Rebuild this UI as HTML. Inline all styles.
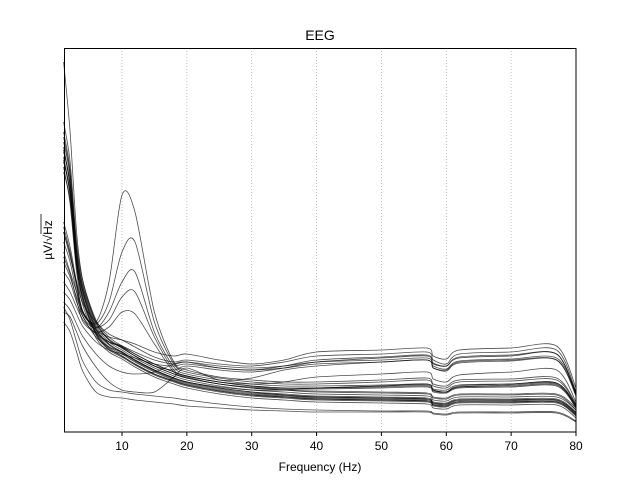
<!DOCTYPE html>
<html><head><meta charset="utf-8"><style>
body{margin:0;background:#fff;width:640px;height:480px;overflow:hidden}
text{font-family:"Liberation Sans","DejaVu Sans",sans-serif}
</style></head><body>
<svg id="chart" width="640" height="480" xmlns="http://www.w3.org/2000/svg">
<rect width="640" height="480" fill="#fff"/>
<g id="grid"></g>
<g id="lines"></g>
<rect x="64.5" y="48.5" width="511.5" height="383.5" fill="none" stroke="#000" stroke-width="1"/>
<g id="ticks"></g>
<text x="320" y="40" font-size="14" text-anchor="middle">EEG</text>
<text x="320" y="471" font-size="12" text-anchor="middle">Frequency (Hz)</text>
<g transform="translate(52,240) rotate(-90)"><text x="0" y="0" font-size="12" text-anchor="middle">µV/√Hz</text><line x1="6" x2="26" y1="-11" y2="-11" stroke="#000" stroke-width="0.8"/></g>
</svg>
<script>
const freqs=[1,2,3,4,6,8,10,12,15,18,20,25,30,35,40,50,57,58,60,62,70,77,80];
const xTicks=[10,20,30,40,50,60,70,80];
const ch01=[270,240,170,135,100,85,78,70,60,52,48,42,38,36,34,33,32,28,27,31,31,31,18];
const ch02=[280,250,175,140,104,88,80,72,62,54,50,44,40,38,36,35,34,30,29,33,33,33,20];
const ch03=[260,232,165,130,97,82,75,67,57,50,46,40,36,34,32,31,30,26,25,29,29,29,16];
const ch04=[290,255,180,142,106,90,82,74,64,56,52,46,42,40,38,37,36,32,31,35,35,35,22];
const ch05=[275,238,168,133,99,84,76,68,58,51,47,41,37,35,33,32,31,27,26,30,30,30,17];
const ch06=[300,262,185,146,110,93,85,76,66,58,54,48,44,42,41,40,39,35,34,38,38,38,24];
const ch07=[265,228,160,126,94,80,73,65,55,48,44,38,34,32,30,29,28,24,23,27,27,27,14];
const ch08=[285,245,172,138,102,87,79,71,61,53,49,43,39,37,35,34,33,29,28,32,32,32,19];
const ch09=[160,150,130,115,95,85,80,72,62,54,50,45,42,42,44,46,47,42,40,45,47,48,25];
const ch10=[180,160,140,120,100,90,85,78,68,60,56,50,48,50,55,58,60,53,50,57,60,62,30];
const ch11=[200,175,150,128,110,98,92,85,75,70,72,68,66,70,76,78,80,72,68,78,80,82,40];
const ch12=[150,140,125,112,98,90,86,80,72,68,70,64,62,66,72,75,77,69,66,75,77,78,38];
const ch13=[170,155,135,118,102,95,92,88,80,76,78,72,68,72,80,82,84,76,73,82,84,86,44];
const ch14=[140,132,118,105,90,82,78,74,68,66,68,64,62,64,68,70,72,64,62,70,72,72,36];
const ch15=[120,115,100,85,65,50,42,40,40,55,64,52,54,62,66,70,72,64,61,69,71,72,38];
const ch16=[130,122,108,95,78,66,60,58,60,68,70,66,64,66,70,72,74,66,63,71,73,74,40];
const ch17=[110,100,80,60,40,35,34,32,30,28,26,24,22,21,20,20,20,18,17,19,19,19,10];
const ch18=[125,112,90,70,50,42,40,38,36,34,32,28,25,23,22,21,21,19,18,20,20,20,11];
const ch19=[210,185,150,120,110,150,237,220,120,70,62,55,52,50,50,52,54,48,46,52,53,54,28];
const ch20=[200,178,145,118,108,130,180,190,110,68,60,54,50,48,48,50,52,46,44,50,51,52,27];
const ch21=[190,170,140,115,104,120,150,160,100,65,58,52,48,46,46,47,48,43,42,47,48,49,26];
const ch22=[205,180,148,120,105,112,135,140,95,62,56,50,46,44,44,45,46,41,40,45,46,47,25];
const ch23=[175,158,132,110,100,105,120,118,88,60,55,48,45,43,43,44,45,40,39,44,45,46,24];
const ch24=[310,270,190,150,112,95,86,78,68,60,56,50,46,44,44,46,48,42,40,46,48,49,26];
const ch25=[295,258,182,144,108,92,84,76,66,62,66,62,60,64,70,74,76,68,66,74,76,78,36];
const ch26=[370,300,200,150,110,92,84,76,66,58,54,48,44,42,40,39,38,34,33,37,37,37,22];
const ch27=[282,246,174,139,103,88,80,72,62,54,50,44,40,37,35,34,33,29,28,32,32,32,19];
const ch28=[272,236,166,132,98,83,76,68,58,51,47,41,37,35,33,32,31,27,26,30,30,30,17];
const channels=[ch01,ch02,ch03,ch04,ch05,ch06,ch07,ch08,ch09,ch10,ch11,ch12,ch13,ch14,ch15,ch16,ch17,ch18,ch19,ch20,ch21,ch22,ch23,ch24,ch25,ch26,ch27,ch28];
const NS="http://www.w3.org/2000/svg";
const xMin=1.06,xMax=80,pxL=64,pxR=576,pyB=432,pyT=48,yMax=384;
function xs(f){return pxL+(f-xMin)/(xMax-xMin)*(pxR-pxL);}
function ys(v){return pyB-v/yMax*(pyB-pyT);}
function smoothPath(pts){
 let d='M'+pts[0][0].toFixed(1)+','+pts[0][1].toFixed(1);
 for(let i=0;i<pts.length-1;i++){
  const p0=pts[Math.max(i-1,0)],p1=pts[i],p2=pts[i+1],p3=pts[Math.min(i+2,pts.length-1)];
  const k=0.15;
  const c1=[p1[0]+(p2[0]-p0[0])*k,p1[1]+(p2[1]-p0[1])*k];
  const c2=[p2[0]-(p3[0]-p1[0])*k,p2[1]-(p3[1]-p1[1])*k];
  d+=' C'+c1[0].toFixed(1)+','+c1[1].toFixed(1)+' '+c2[0].toFixed(1)+','+c2[1].toFixed(1)+' '+p2[0].toFixed(1)+','+p2[1].toFixed(1);
 }
 return d;
}
const grid=document.getElementById('grid'),ticks=document.getElementById('ticks'),lines=document.getElementById('lines');
xTicks.forEach(t=>{
 const x=xs(t);
 if(t<80){const g=document.createElementNS(NS,'line');
 
 
 g.setAttribute('x1',x);g.setAttribute('x2',x);g.setAttribute('y1',pyT);g.setAttribute('y2',pyB);
 g.setAttribute('stroke','#b0b0b0');g.setAttribute('stroke-width','0.8');g.setAttribute('stroke-dasharray','1,2');grid.appendChild(g);}
 const tk=document.createElementNS(NS,'line');
 
 
 tk.setAttribute('x1',x);tk.setAttribute('x2',x);tk.setAttribute('y1',pyB);tk.setAttribute('y2',pyB+4);tk.setAttribute('stroke','#000');ticks.appendChild(tk);
 const lb=document.createElementNS(NS,'text');
 
 
 lb.setAttribute('x',x);lb.setAttribute('y',pyB+18);lb.setAttribute('font-size','12');lb.setAttribute('text-anchor','middle');lb.textContent=t;ticks.appendChild(lb);
});
channels.forEach(c=>{
 const p=document.createElementNS(NS,'path');
 
 
 p.setAttribute('d',smoothPath(c.map((v,i)=>[xs(freqs[i]),ys(v)])));
 p.setAttribute('fill','none');p.setAttribute('stroke','#000');p.setAttribute('stroke-opacity','0.7');p.setAttribute('stroke-width','0.8');p.setAttribute('stroke-linejoin','round');
 lines.appendChild(p);
});
</script>
</body></html>
